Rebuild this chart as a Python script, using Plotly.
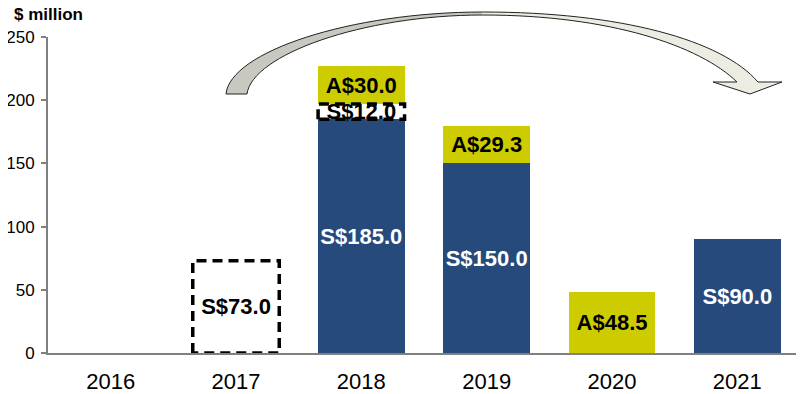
import plotly.graph_objects as go

# ---- data ----
years = ["2016", "2017", "2018", "2019", "2020", "2021"]
sgd_solid = [0, 0, 185.0, 150.0, 0, 90.0]      # dark blue bars (S$)
sgd_planned = [0, 73.0, 12.0, 0, 0, 0]        # dashed boxes (S$)
aud = [0, 0, 30.0, 29.3, 48.5, 0]             # yellow bars (A$)
y_ticks = [0, 50, 100, 150, 200, 250]

# ---- style ----
NAVY = "#264A7C"
YELLOW = "#CCCC00"
AXIS = "#808080"
FONT = "Liberation Sans, Arial, sans-serif"
OFF = 8                      # page body margin offset
W, H = 804 - OFF, 394 - OFF
L, R, T, B = 48 - OFF, 4, 37 - OFF, 41
BAR_W = 0.69

xs = list(range(len(years)))


def lab(prefix, vals):
    return [f"{prefix}{v:.1f}" if v else "" for v in vals]


fig = go.Figure()

fig.add_trace(go.Bar(
    x=xs, y=sgd_solid, width=BAR_W, marker=dict(color=NAVY, line=dict(width=0)),
    text=lab("S$", sgd_solid), textposition="inside", insidetextanchor="middle",
    textangle=0, constraintext="none",
    textfont=dict(family=FONT, size=22, color="white", weight="bold"),
    showlegend=False, hoverinfo="skip"))

fig.add_trace(go.Bar(
    x=xs, y=sgd_planned, width=BAR_W, marker=dict(color="white", line=dict(width=0)),
    text=lab("S$", sgd_planned), textposition="inside", insidetextanchor="middle",
    textangle=0, constraintext="none",
    textfont=dict(family=FONT, size=22, color="black", weight="bold"),
    showlegend=False, hoverinfo="skip"))

fig.add_trace(go.Bar(
    x=xs, y=aud, width=BAR_W, marker=dict(color=YELLOW, line=dict(width=0)),
    text=lab("A$", aud), textposition="inside", insidetextanchor="middle",
    textangle=0, constraintext="none",
    textfont=dict(family=FONT, size=22, color="black", weight="bold"),
    showlegend=False, hoverinfo="skip"))

# dashed outlines for planned amounts, derived from the data
for i, v in enumerate(sgd_planned):
    if not v:
        continue
    b = sgd_solid[i]
    x0, x1 = i - BAR_W / 2, i + BAR_W / 2
    fig.add_trace(go.Scatter(
        x=[x0, x0, x1, x1, x0], y=[b, b + v, b + v, b, b],
        mode="lines", line=dict(color="black", width=3.5, dash="10px,6px"),
        showlegend=False, hoverinfo="skip", cliponaxis=False))

# ---- decorative curved arrow (screen pixel -> paper) ----
pw, ph = W - L - R, H - T - B


def P(px, py):
    px -= OFF
    py -= OFF
    return f"{(px - L) / pw:.4f},{(H - B - py) / ph:.4f}"


left_half = (f"M {P(226, 94)} C {P(230, 52)} {P(350, 12)} {P(483, 12)} "
             f"L {P(483, 15)} C {P(362, 15)} {P(252, 55)} {P(247, 94)} Z")
right_half = (f"M {P(482, 12)} C {P(620, 12)} {P(722, 40)} {P(758, 82)} "
              f"L {P(782, 82)} L {P(750, 94)} L {P(713, 82)} L {P(737, 82)} "
              f"C {P(700, 46)} {P(610, 15)} {P(482, 15)} Z")
outline = (f"M {P(226, 94)} C {P(230, 52)} {P(350, 12)} {P(483, 12)} "
           f"C {P(620, 12)} {P(722, 40)} {P(758, 82)} "
           f"L {P(782, 82)} L {P(750, 94)} L {P(713, 82)} L {P(737, 82)} "
           f"C {P(700, 46)} {P(610, 15)} {P(483, 15)} "
           f"C {P(362, 15)} {P(252, 55)} {P(247, 94)} Z")
shapes = [
    dict(type="path", xref="paper", yref="paper", path=left_half,
         fillcolor="#C8C8C0", line=dict(width=0)),
    dict(type="path", xref="paper", yref="paper", path=right_half,
         fillcolor="#ECECE2", line=dict(width=0)),
    dict(type="path", xref="paper", yref="paper", path=outline,
         fillcolor="rgba(0,0,0,0)", line=dict(color="#222222", width=1)),
]

fig.update_layout(
    width=W, height=H, barmode="stack", bargap=0.31,
    margin=dict(l=L, r=R, t=T, b=B, pad=0, autoexpand=False),
    paper_bgcolor="white", plot_bgcolor="white",
    font=dict(family=FONT, color="black"),
    shapes=shapes,
    xaxis=dict(range=[-0.5, len(years) - 0.5], tickmode="array", tickvals=xs,
               ticktext=years, showline=True, linecolor=AXIS, linewidth=2,
               ticks="", showgrid=False, zeroline=False, automargin=False,
               tickfont=dict(family=FONT, size=22, color="black"),
               ticklabelstandoff=8),
    yaxis=dict(range=[0, 250], tickmode="array", tickvals=y_ticks,
               showline=True, linecolor=AXIS, linewidth=2, ticks="outside",
               ticklen=5, tickwidth=2, tickcolor=AXIS, showgrid=False,
               zeroline=False, automargin=False,
               tickfont=dict(family=FONT, size=17, color="black"),
               ticklabelstandoff=3),
    annotations=[dict(text="$ million", xref="paper", yref="paper",
                      x=(12 - OFF - L) / pw, y=(H - B - (14 - OFF)) / ph,
                      xanchor="left", yanchor="middle", showarrow=False,
                      font=dict(family=FONT, size=17, color="black", weight="bold"))],
)

fig.write_html("out.html")
